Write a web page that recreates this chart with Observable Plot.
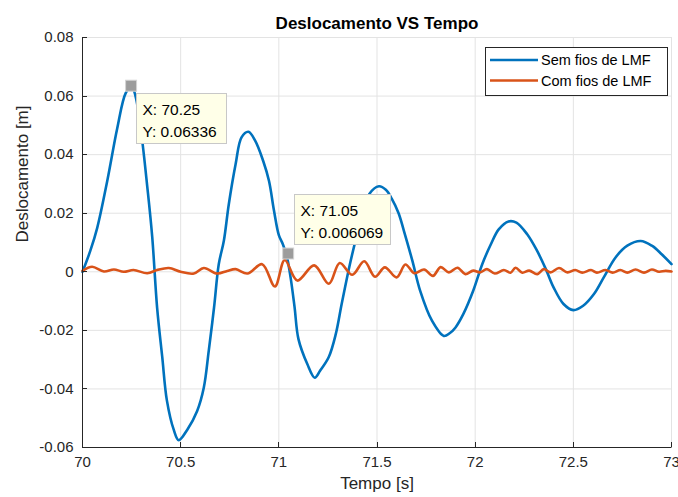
<!DOCTYPE html>
<html><head><meta charset="utf-8">
<script src="https://cdn.jsdelivr.net/npm/d3@7"></script>
<script src="https://cdn.jsdelivr.net/npm/@observablehq/plot@0.6"></script>
<style>
body{margin:0;background:#fff;}
#chart svg{display:block;background:#fff;}
</style></head><body><div id="chart"></div>
<script>
const title = "Deslocamento VS Tempo";
const xLabel = "Tempo [s]";
const yLabel = "Deslocamento [m]";
const seriesNames = ["Sem fios de LMF", "Com fios de LMF"];
const xTicks = [70, 70.5, 71, 71.5, 72, 72.5, 73];
const xTickLabels = ["70", "70.5", "71", "71.5", "72", "72.5", "73"];
const yTicks = [-0.06, -0.04, -0.02, 0, 0.02, 0.04, 0.06, 0.08];
const yTickLabels = ["-0.06", "-0.04", "-0.02", "0", "0.02", "0.04", "0.06", "0.08"];

const semT = [70.00, 70.04, 70.075, 70.126, 70.177, 70.22, 70.25, 70.27, 70.30, 70.33, 70.355, 70.38, 70.406, 70.43, 70.465, 70.49, 70.533, 70.584, 70.618, 70.643, 70.67, 70.694, 70.72, 70.745, 70.78, 70.81, 70.845, 70.88, 70.92, 70.95, 70.975, 71.0, 71.02, 71.04, 71.06, 71.08, 71.10, 71.145, 71.183, 71.21, 71.255, 71.29, 71.32, 71.36, 71.39, 71.425, 71.46, 71.51, 71.545, 71.575, 71.61, 71.637, 71.68, 71.72, 71.78, 71.84, 71.87, 71.90, 71.94, 71.99, 72.036, 72.08, 72.12, 72.17, 72.21, 72.265, 72.315, 72.36, 72.40, 72.45, 72.50, 72.55, 72.605, 72.655, 72.715, 72.775, 72.843, 72.90, 72.95, 73.0];
const semY = [0.0000, 0.0072, 0.0150, 0.0310, 0.0490, 0.0610, 0.06336, 0.0600, 0.0470, 0.0290, 0.0120, -0.0122, -0.0290, -0.0440, -0.0540, -0.0575, -0.0540, -0.0475, -0.0395, -0.0270, -0.0122, 0.0026, 0.0106, 0.0230, 0.0368, 0.0459, 0.0478, 0.0447, 0.0379, 0.0310, 0.0210, 0.0125, 0.0095, 0.0055, -0.0020, -0.0120, -0.0230, -0.0315, -0.0362, -0.0338, -0.0290, -0.0213, -0.0110, 0.0020, 0.0105, 0.0197, 0.0265, 0.0292, 0.0280, 0.0250, 0.0200, 0.0140, 0.0038, -0.0065, -0.0167, -0.0219, -0.0210, -0.0190, -0.0144, -0.0065, 0.0026, 0.0094, 0.0145, 0.0172, 0.0168, 0.0128, 0.0072, 0.0009, -0.0054, -0.0110, -0.0131, -0.0116, -0.0076, -0.0019, 0.0049, 0.0089, 0.0105, 0.0089, 0.0060, 0.0026];

const comT = [70.00, 70.049, 70.109, 70.16, 70.21, 70.26, 70.33, 70.38, 70.44, 70.50, 70.567, 70.618, 70.686, 70.737, 70.78, 70.84, 70.915, 70.98, 71.03, 71.094, 71.18, 71.255, 71.31, 71.374, 71.435, 71.49, 71.54, 71.60, 71.645, 71.69, 71.74, 71.785, 71.824, 71.866, 71.91, 71.95, 71.99, 72.025, 72.06, 72.10, 72.146, 72.18, 72.206, 72.24, 72.275, 72.316, 72.35, 72.384, 72.427, 72.47, 72.51, 72.545, 72.59, 72.62, 72.664, 72.70, 72.74, 72.775, 72.817, 72.86, 72.90, 72.936, 72.97, 73.0];
const comY = [0.0003, 0.0017, 0.0001, 0.0008, 0.0000, 0.0006, -0.0005, 0.0006, 0.0013, 0.0000, -0.0006, 0.0013, -0.0006, 0.0003, 0.0009, -0.0006, 0.0026, -0.0050, 0.0040, -0.0030, 0.0022, -0.0041, 0.0030, -0.0010, 0.0036, -0.0017, 0.0015, -0.0019, 0.0025, -0.0005, 0.0008, -0.0014, 0.0016, -0.0002, 0.0014, -0.0008, 0.0004, -0.0002, 0.0009, -0.0006, 0.0006, -0.0003, 0.0014, -0.0003, 0.0004, -0.0008, 0.0009, -0.0002, 0.0013, -0.0002, 0.0006, -0.0003, 0.0006, -0.0003, 0.0006, -0.0003, 0.0006, -0.0003, 0.0008, -0.0003, 0.0008, 0.0000, 0.0003, 0.0001];

const tipT = [70.25, 71.05];
const tipY = [0.06336, 0.006069];
const tipTextX = ["X: 70.25", "X: 71.05"];
const tipTextY = ["Y: 0.06336", "Y: 0.006069"];

const colors = ["#0072BD", "#D95319"];
const font = "'Liberation Sans', Arial, Helvetica, sans-serif";
const axisColor = "#262626";
const gridColor = "#e3e3e3";

const sem = semT.map((t, i) => ({t, y: semY[i]}));
const com = comT.map((t, i) => ({t, y: comY[i]}));
const tips = tipT.map((t, i) => ({t, y: tipY[i], a: tipTextX[i], b: tipTextY[i]}));

function innerTicks(index, scales, values, dim) {
  const g = d3.create("svg:g").attr("stroke", axisColor).attr("stroke-width", 1).attr("fill", "none");
  const left = dim.marginLeft, bottom = dim.height - dim.marginBottom, top = dim.marginTop, right = dim.width - dim.marginRight;
  g.append("line").attr("x1", left + 0.5).attr("x2", left + 0.5).attr("y1", top).attr("y2", bottom + 0.5);
  g.append("line").attr("x1", left).attr("x2", right + 0.5).attr("y1", bottom + 0.5).attr("y2", bottom + 0.5);
  for (const t of xTicks) {
    const x = Math.round(scales.x(t)) + 0.5;
    g.append("line").attr("x1", x).attr("x2", x).attr("y1", bottom).attr("y2", bottom - 5);
  }
  for (const v of yTicks) {
    const y = Math.round(scales.y(v)) + 0.5;
    g.append("line").attr("x1", left).attr("x2", left + 5).attr("y1", y).attr("y2", y);
  }
  return g.node();
}

function legend(index, scales, values, dim) {
  const right = dim.width - dim.marginRight;
  const bx = right - 186, by = dim.marginTop + 10, bw = 182, bh = 48;
  const g = d3.create("svg:g").attr("text-anchor", "start");
  g.append("rect").attr("x", bx + 0.5).attr("y", by + 0.5).attr("width", bw).attr("height", bh)
    .attr("fill", "#fff").attr("stroke", axisColor).attr("stroke-width", 1);
  seriesNames.forEach((name, i) => {
    const y = by + 13 + i * 20.5;
    g.append("line").attr("x1", bx + 5).attr("x2", bx + 53).attr("y1", y).attr("y2", y)
      .attr("stroke", colors[i]).attr("stroke-width", 2.6);
    g.append("text").attr("x", bx + 56).attr("y", y + 5).attr("font-family", font)
      .attr("font-size", 14.5).attr("fill", "#000").attr("text-anchor", "start").text(name);
  });
  return g.node();
}

function datatips(index, scales, values, dim) {
  const g = d3.create("svg:g").attr("text-anchor", "start");
  const offsets = [{dx: 5, dy: 7, w: 90}, {dx: 6, dy: -60, w: 96}];
  tips.forEach((d, i) => {
    const px = scales.x(d.t), py = scales.y(d.y);
    const o = offsets[i];
    g.append("rect").attr("x", px - 5.5).attr("y", py - 5.5).attr("width", 11).attr("height", 11)
      .attr("fill", "#9c9c9c").attr("stroke", "#d4d4d4").attr("stroke-width", 1);
    const bx = Math.round(px + o.dx) + 0.5, by = Math.round(py + o.dy) + 0.5;
    g.append("rect").attr("x", bx).attr("y", by).attr("width", o.w).attr("height", 50)
      .attr("fill", "#ffffe8").attr("stroke", "#c8c8c8").attr("stroke-width", 1);
    g.append("text").attr("x", bx + 6).attr("y", by + 21).attr("font-family", font)
      .attr("font-size", 15.5).attr("fill", "#000").attr("text-anchor", "start").text(d.a);
    g.append("text").attr("x", bx + 6).attr("y", by + 43).attr("font-family", font)
      .attr("font-size", 15.5).attr("fill", "#000").attr("text-anchor", "start").text(d.b);
  });
  return g.node();
}

const chart = Plot.plot({
  width: 678,
  height: 497,
  marginLeft: 82,
  marginRight: 7,
  marginTop: 37,
  marginBottom: 50,
  style: {fontFamily: font, background: "#fff", overflow: "visible"},
  x: {domain: [70, 73], label: null},
  y: {domain: [-0.06, 0.08], label: null},
  marks: [
    Plot.gridX(xTicks, {stroke: gridColor, strokeOpacity: 1, strokeWidth: 1}),
    Plot.gridY(yTicks, {stroke: gridColor, strokeOpacity: 1, strokeWidth: 1}),
    Plot.axisX({ticks: xTicks, tickSize: 0, tickPadding: 9, fontSize: 15, color: axisColor, label: null,
      tickFormat: d => xTickLabels[xTicks.indexOf(d)]}),
    Plot.axisY({ticks: yTicks, tickSize: 0, tickPadding: 9, fontSize: 15, color: axisColor, label: null,
      tickFormat: d => yTickLabels[yTicks.indexOf(d)]}),
    Plot.line(sem, {x: "t", y: "y", stroke: colors[0], strokeWidth: 2.6, curve: "catmull-rom"}),
    Plot.line(com, {x: "t", y: "y", stroke: colors[1], strokeWidth: 2.6, curve: "catmull-rom"}),
    innerTicks,
    datatips,
    legend,
    Plot.text([title], {frameAnchor: "top", lineAnchor: "bottom", dy: -9, fontSize: 17, fontWeight: "bold", fill: "#000"}),
    Plot.text([xLabel], {frameAnchor: "bottom", lineAnchor: "middle", dy: 36, fontSize: 17, fill: axisColor}),
    Plot.text([yLabel], {frameAnchor: "left", rotate: -90, dx: -60, fontSize: 17, fill: axisColor})
  ]
});
document.getElementById("chart").appendChild(chart);
</script>
</body></html>
